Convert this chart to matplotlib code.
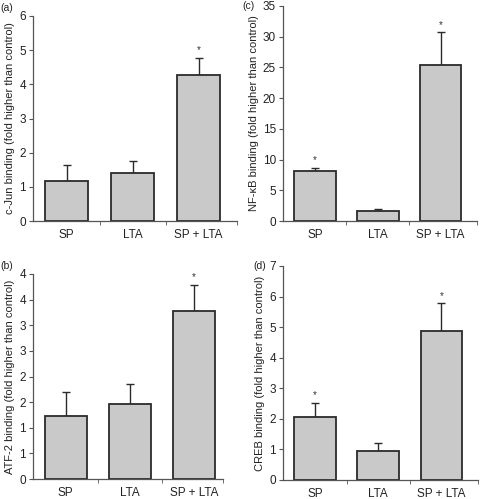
import matplotlib
matplotlib.use("Agg")
import matplotlib.pyplot as plt
import numpy as np

groups = ["SP", "LTA", "SP + LTA"]

# bar heights and upper error bars
cjun_mean = [1.16, 1.40, 4.26]
cjun_err = [0.49, 0.36, 0.52]
cjun_star = [False, False, True]

atf2_mean = [1.22, 1.47, 3.27]
atf2_err = [0.47, 0.39, 0.52]
atf2_star = [False, False, True]

nfkb_mean = [8.1, 1.6, 25.4]
nfkb_err = [0.6, 0.3, 5.3]
nfkb_star = [True, False, True]

creb_mean = [2.07, 0.95, 4.88]
creb_err = [0.45, 0.27, 0.90]
creb_star = [True, False, True]

W, H = 480, 499
fig = plt.figure(figsize=(W / 100, H / 100), dpi=100)
plt.rcParams['font.family'] = 'Liberation Sans'


def px_axes(left, top, right, bottom):
    return fig.add_axes([left / W, 1 - bottom / H, (right - left) / W, (bottom - top) / H])


def panel(ax, means, errs, stars, ylabel, ymax, yticks, yticklabels, letter, xmax=2.58):
    x = np.arange(len(groups))
    ax.bar(x, means, width=0.66, color="#c9c9c9", edgecolor="#2b2b2b", linewidth=1.3, zorder=2)
    ax.errorbar(x, means, yerr=[np.zeros(len(errs)), errs], fmt="none", ecolor="#2b2b2b",
                elinewidth=1.0, capsize=3, capthick=1.0, zorder=1)
    for xi, m, e, s in zip(x, means, errs, stars):
        if s:
            ax.text(xi, m + e + ymax * 0.012, "*", ha="center", va="bottom", fontsize=7, color="#333333")
    ax.set_xlim(-0.51, xmax)
    ax.set_ylim(0, ymax)
    ax.set_yticks(yticks)
    ax.set_yticklabels(yticklabels)
    ax.set_xticks(x)
    ax.set_xticklabels(groups)
    ax.set_xticks([0.5, 1.5, xmax], minor=True)
    ax.tick_params(axis="x", which="major", length=0, pad=6, labelsize=8.5, labelcolor="#222222")
    ax.tick_params(axis="x", which="minor", length=3, direction="out", color="#555555")
    ax.tick_params(axis="y", length=3, direction="out", labelsize=8.5, pad=2, color="#555555",
                   labelcolor="#222222")
    for sp in ["top", "right"]:
        ax.spines[sp].set_visible(False)
    for sp in ["left", "bottom"]:
        ax.spines[sp].set_color("#555555")
        ax.spines[sp].set_linewidth(0.9)
    ax.set_ylabel(ylabel, fontsize=8, labelpad=3, color="#222222")
    ax.text(-0.2, 1.03, letter, transform=ax.transAxes, fontsize=7.5, ha="left", va="center",
            color="#222222")


ax_a = px_axes(33, 16, 237, 221)
panel(ax_a, cjun_mean, cjun_err, cjun_star, "c-Jun binding (fold higher than control)",
      6, range(0, 7), [str(v) for v in range(0, 7)], "(a)")
ax_a.texts[-1].set_position((-0.16, 1.04))

ax_c = px_axes(283, 6, 477, 221)
panel(ax_c, nfkb_mean, nfkb_err, nfkb_star, "NF-\u03baB binding (fold higher than control)",
      35, range(0, 36, 5), [str(v) for v in range(0, 36, 5)], "(c)")
ax_c.texts[-1].set_position((-0.21, 1.0))

atf_ticks = np.arange(0, 4.01, 0.5)
atf_labels = ["0", "1", "1", "2", "2", "3", "3", "4", "4"]
ax_b = px_axes(33, 274, 223, 479)
panel(ax_b, atf2_mean, atf2_err, atf2_star, "ATF-2 binding (fold higher than control)",
      4, atf_ticks, atf_labels, "(b)", xmax=2.45)
ax_b.texts[-1].set_position((-0.17, 1.04))

ax_d = px_axes(283, 266, 478, 480)
panel(ax_d, creb_mean, creb_err, creb_star, "CREB binding (fold higher than control)",
      7, range(0, 8), [str(v) for v in range(0, 8)], "(d)")
ax_d.texts[-1].set_position((-0.15, 1.0))

plt.savefig("out.png", dpi=100)
plt.close()
